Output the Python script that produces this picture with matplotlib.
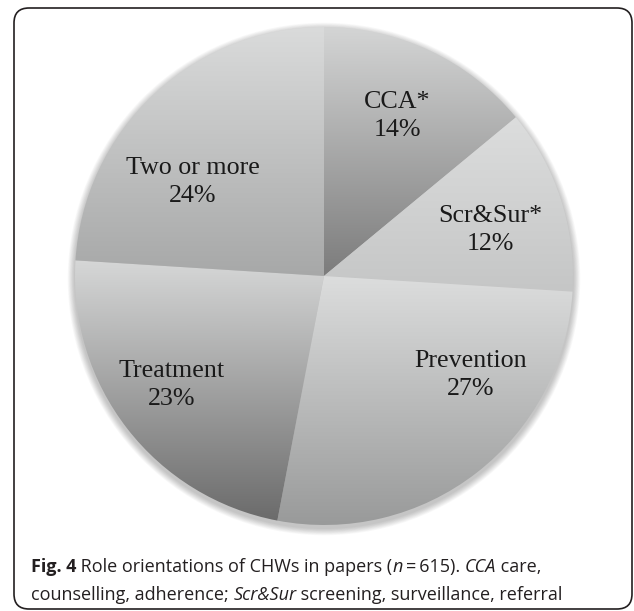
import numpy as np
import matplotlib
matplotlib.use('Agg')
import matplotlib.pyplot as plt
from matplotlib.colors import LinearSegmentedColormap
from matplotlib.patches import FancyBboxPatch, Circle

# data
labels = ['CCA*', 'Scr&Sur*', 'Prevention', 'Treatment', 'Two or more']
shares = [14, 12, 27, 23, 24]
# gradient colours (top, bottom) for each slice
tops = ['#d4d5d5', '#dcdddd', '#dcdddd', '#d6d7d7', '#dadbdb']
bottoms = ['#7c7c7c', '#c5c6c6', '#999a9a', '#6b6b6b', '#a7a8a8']

W, H = 634, 611
fig = plt.figure(figsize=(W/100, H/100), dpi=100)
ax = fig.add_axes([0, 0, 1, 1])
ax.set_xlim(0, W)
ax.set_ylim(0, H)
ax.axis('off')

cx, cy, R = 324, H-276, 249

# soft shadow
for i in range(10):
    ax.add_patch(Circle((cx, cy-3), R+1+i*0.7, color='k', alpha=0.025, lw=0, zorder=0))

wedges, _ = ax.pie(shares, center=(cx, cy), radius=R, startangle=90,
                   counterclock=False, frame=True,
                   wedgeprops=dict(linewidth=0))
grad = np.linspace(0, 1, 256).reshape(-1, 1)
for w, t, b in zip(wedges, tops, bottoms):
    w.set_facecolor('none')
    ext = w.get_path().get_extents()
    cmap = LinearSegmentedColormap.from_list('g', [t, b])
    im = ax.imshow(grad, cmap=cmap, extent=(ext.x0, ext.x1, ext.y0, ext.y1),
                   origin='upper', aspect='auto', interpolation='bilinear', zorder=1)
    im.set_clip_path(w)
ax.set_xlim(0, W)
ax.set_ylim(0, H)
ax.set_aspect('auto')

# slice labels
label_pos = [(397, 116), (490, 230), (471, 375), (172, 385), (193, 182)]
for lab, s, (x, y) in zip(labels, shares, label_pos):
    ax.text(x, H-y, f'{lab}\n{s}%', ha='center', va='center', fontsize=18.7,
            family='Liberation Serif', color='#1a1a1a', linespacing=1.4, zorder=3)

# frame
box = FancyBboxPatch((14, 2), 618, H-10, boxstyle='round,pad=0,rounding_size=15',
                     fc='none', ec='#231f20', lw=1.2, zorder=4)
ax.add_patch(box)

# caption
fam = 'Open Sans'
fs = 13.0
line1 = [('Fig. 4', 'bold', 'normal'), (' Role orientations of CHWs in papers (', 'normal', 'normal'),
         ('n', 'normal', 'italic'), ('\u2009=\u2009615). ', 'normal', 'normal'), ('CCA', 'normal', 'italic'),
         (' care,', 'normal', 'normal')]
line2 = [('counselling, adherence; ', 'normal', 'normal'), ('Scr&Sur', 'normal', 'italic'),
         (' screening, surveillance, referral', 'normal', 'normal')]

fig.canvas.draw()
r = fig.canvas.get_renderer()
for parts, base in [(line1, 572), (line2, 600)]:
    x = 31
    for s, wt, st in parts:
        t = ax.text(x, H-base, s, fontsize=fs, family=fam, weight=wt, style=st,
                    color='#231f20', va='baseline', ha='left', zorder=5)
        bb = t.get_window_extent(renderer=r)
        x += bb.width

fig.savefig('out.png', dpi=100)
